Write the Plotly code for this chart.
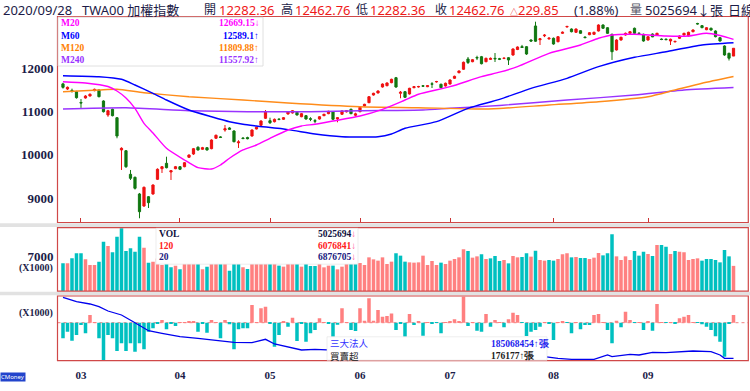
import plotly.graph_objects as go
import numpy as np

W, H = 750, 391
def px(x): return x / W
def py(y): return 1 - y / H

# ---------------- data ----------------
month_labels = ["03", "04", "05", "06", "07", "08", "09"]
days_per_month = [4, 22, 20, 20, 20, 23, 21, 20]   # Feb(part) .. Sep trading days
n_days = sum(days_per_month)
idx = list(range(n_days))
month_start = [int(v) for v in np.cumsum(days_per_month)[:-1]]

opens = [11640, 11522, 11490, 11460, 11210, 11314, 11360, 11483, 11499, 11245,
         10922, 11053, 10859, 10114, 10097, 9552, 9483, 9098, 8820, 9035,
         9098, 9437, 9682, 9806, 9606, 9682, 9728, 9728, 9945, 10021,
         10176, 10130, 10167, 10144, 10384, 10415, 10575, 10622, 10552, 10280,
         10390, 10400, 10437, 10598, 10684, 10846, 10790, 10767, 10825, 10822,
         10945, 10968, 10984, 10882, 10906, 10835, 10790, 10829, 10906, 10952,
         10998, 10829, 10938, 10995, 11053, 10915, 10998, 11130, 11206, 11383,
         11430, 11568, 11598, 11668, 11783, 11423, 11460, 11407, 11552, 11570,
         11595, 11575, 11640, 11688, 11631, 11591, 11637, 11769, 11898, 11977,
         12215, 12152, 12250, 12268, 12152, 12205, 12230, 12220, 12228, 12245,
         12307, 12434, 12500, 12499, 12653, 12977, 12660, 12750, 12680, 12693,
         12614, 12808, 12955, 12907, 12831, 12868, 12720, 12776, 12785, 12861,
         13000, 12937, 12785, 12423, 12653, 12769, 12808, 12924, 12810, 12785,
         12653, 12792, 12769, 12675, 12672, 12630, 12610, 12693, 12769, 12746,
         12845, 13035, 12985, 12891, 12924, 12861, 12707, 12515, 12346, 12282.36]
highs = [11665, 11580, 11530, 11480, 11290, 11380, 11420, 11530, 11510, 11260,
         11040, 11070, 10870, 10176, 10110, 9652, 9500, 9121, 9270, 9050,
         9320, 9690, 9740, 9959, 9650, 9745, 9740, 9835, 10010, 10160,
         10200, 10185, 10180, 10360, 10470, 10430, 10691, 10640, 10570, 10340,
         10410, 10420, 10590, 10650, 10800, 11037, 10859, 10840, 10845, 10875,
         11010, 11035, 11000, 10965, 10920, 10870, 10830, 10895, 10950, 11020,
         11010, 10870, 11030, 11030, 11070, 10975, 11110, 11180, 11360, 11435,
         11490, 11650, 11675, 11760, 11800, 11476, 11475, 11550, 11590, 11595,
         11610, 11610, 11680, 11710, 11645, 11670, 11745, 11830, 11950, 12155,
         12261, 12215, 12290, 12285, 12245, 12250, 12353, 12240, 12250, 12260,
         12460, 12505, 12540, 12515, 12670, 13076, 12700, 12790, 12720, 12710,
         12745, 12850, 12985, 12920, 12920, 12880, 12740, 12835, 12845, 13015,
         13015, 12950, 12800, 12670, 12730, 12825, 12860, 12940, 12830, 12800,
         12745, 12805, 12820, 12690, 12690, 12685, 12640, 12760, 12820, 12845,
         12900, 13050, 13000, 12950, 12940, 12875, 12720, 12530, 12360, 12462.76]
lows = [11530, 11500, 11440, 11300, 11085, 11300, 11350, 11470, 11330, 10980,
        10880, 10890, 10384, 9652, 9700, 9421, 9200, 8537, 8800, 8774,
        9080, 9420, 9583, 9690, 9421, 9670, 9650, 9715, 9930, 10000,
        10100, 10120, 10100, 10130, 10370, 10390, 10536, 10580, 10290, 10160,
        10360, 10360, 10420, 10590, 10670, 10830, 10714, 10750, 10800, 10810,
        10930, 10955, 10910, 10870, 10815, 10780, 10730, 10815, 10895, 10940,
        10810, 10753, 10925, 10980, 10940, 10882, 10985, 11120, 11195, 11370,
        11420, 11555, 11585, 11655, 11550, 11307, 11315, 11395, 11540, 11555,
        11570, 11565, 11545, 11670, 11540, 11580, 11625, 11755, 11885, 11965,
        12099, 12140, 12190, 12090, 12140, 12195, 12145, 12190, 12210, 12076,
        12290, 12420, 12470, 12310, 12610, 12610, 12538, 12720, 12660, 12545,
        12600, 12795, 12940, 12830, 12815, 12795, 12690, 12765, 12770, 12850,
        12910, 12795, 12192, 12410, 12640, 12755, 12795, 12795, 12790, 12615,
        12640, 12720, 12755, 12650, 12650, 12538, 12600, 12680, 12755, 12735,
        12830, 13010, 12925, 12880, 12870, 12715, 12615, 12290, 12180, 12282.36]
closes = [11560, 11561, 11480, 11321, 11200, 11360, 11400, 11515, 11344, 10998,
          11021, 10906, 10437, 10153, 9728, 9460, 9229, 8689, 9252, 8897,
          9305, 9668, 9728, 9705, 9636, 9728, 9668, 9820, 9998, 10144,
          10114, 10167, 10114, 10344, 10453, 10405, 10605, 10592, 10305, 10300,
          10380, 10375, 10575, 10638, 10783, 10998, 10744, 10822, 10820, 10859,
          10998, 11021, 10922, 10952, 10829, 10825, 10780, 10882, 10938, 11007,
          10822, 10859, 11014, 11020, 10952, 10948, 11099, 11169, 11344, 11423,
          11476, 11637, 11661, 11746, 11568, 11446, 11330, 11538, 11575, 11578,
          11588, 11598, 11635, 11693, 11552, 11654, 11730, 11815, 11938, 12139,
          12135, 12199, 12240, 12106, 12231, 12228, 12220, 12210, 12233, 12192,
          12446, 12492, 12480, 12330, 12630, 12625, 12680, 12765, 12695, 12561,
          12730, 12831, 12965, 12845, 12907, 12808, 12710, 12822, 12831, 13000,
          12924, 12808, 12383, 12653, 12716, 12808, 12845, 12808, 12805, 12630,
          12730, 12725, 12808, 12665, 12662, 12670, 12620, 12745, 12808, 12831,
          12884, 13025, 12938, 12937, 12884, 12730, 12630, 12307, 12233, 12462.76]

volume = [5530, 5530, 6530, 7530, 7530, 6330, 5200, 5200, 5870, 9870,
          9000, 7730, 10870, 12530, 8000, 8530, 7870, 10870, 8670, 5670,
          5870, 6500, 5200, 5800, 4730, 5070, 4330, 6200, 6800, 6400,
          5900, 4330, 4870, 5900, 6300, 5600, 6100, 4070, 5700, 5500,
          4730, 4400, 5800, 6000, 6500, 7200, 5900, 5600, 5070, 4870,
          5700, 5900, 5600, 4870, 5500, 5000, 5000, 5800, 4730, 5070,
          5070, 4330, 4870, 5900, 6100, 5700, 5600, 5200, 6730, 6330,
          6070, 6730, 5400, 5870, 7530, 7070, 5870, 5730, 5670, 5730,
          7070, 5200, 6000, 5200, 5670, 5400, 6070, 6400, 6730, 8330,
          8000, 6670, 6930, 7330, 6400, 6530, 7000, 6000, 6200, 5530,
          7000, 6730, 6800, 7530, 6870, 8070, 6200, 6070, 6200, 6070,
          6400, 7330, 7530, 6730, 6800, 6600, 6600, 6400, 6670, 7600,
          7130, 7530, 11330, 6930, 6200, 6930, 6200, 8000, 7070, 7870,
          7400, 7000, 9200, 9200, 8870, 7400, 8000, 7870, 7730, 6200,
          6400, 6530, 6070, 6400, 6400, 6200, 5730, 8200, 6930, 5026]

inst_net = [-62, -36, -72, -49, -9, -42, 31, 2, -62, -149,
            -49, -62, -113, -82, -113, -82, -116, -82, -106, -36,
            -22, -3, 11, -26, -3, -13, 1, 2, 4, 7,
            -36, -2, -40, 11, 1, -62, 11, -6, -106, -26,
            -22, -22, 71, 2, 58, 64, -2, -96, -49, 4,
            -16, 20, -73, -4, -76, -42, -29, 18, 2, -2,
            -56, -8, 58, 2, -29, -33, 58, 8, 98, 8,
            51, 24, 27, 37, -29, -5, -56, 35, -9, 4,
            -52, 1, -3, -1, -42, 2, 4, 14, 4, 104,
            -13, 1, -32, -36, 35, -16, 11, 1, -18, 14,
            40, 31, -1, -53, -36, -29, -16, 1, -2, -69,
            1, 7, -1, -42, 1, -26, -9, -9, 31, 35,
            1, -29, -82, 8, -18, 44, 11, -1, 1, -29,
            4, -32, 75, 1, -1, 1, -4, 18, 24, 31,
            1, -1, -6, -16, -29, -54, -76, -136, -3, 31]

cum_idx = [0, 3, 6, 8, 10, 13, 16, 19, 22, 26, 30, 34, 38, 42, 44, 45, 47, 50, 53, 56, 59,
           70, 85, 100, 107, 110, 113, 118, 121, 122, 126, 128, 131, 134, 140, 144, 146, 147, 149]
cum_val = [63.4, 59.0, 56.7, 54.0, 49.7, 45.7, 38.0, 30.0, 27.4, 24.0, 22.4, 20.7, 18.4, 18.0,
           20.2, 21.4, 16.7, 13.4, 10.7, 11.4, 10.7, 8.7, 6.7, 4.7, 4.0, 2.4, 1.4, 1.4, 5.7,
           4.0, 6.4, 5.7, 8.4, 8.0, 9.7, 9.0, 5.7, 2.4, 2.4]

ma20_idx = [0, 5, 10, 12, 14, 16, 18, 20, 23, 27, 30, 33, 35, 37, 40, 43, 46, 50, 53, 56, 60,
            66, 71, 76, 79, 86, 93, 97, 101, 108, 115, 119, 122, 127, 134, 139, 143, 146, 149]
ma20_val = [11691, 11661, 11580, 11476, 11314, 11076, 10730, 10506, 10153, 9883, 9705, 9675,
            9767, 9922, 10114, 10229, 10384, 10575, 10668, 10707, 10783, 10899, 11053, 11268,
            11400, 11575, 11806, 11910, 12037, 12346, 12538, 12693, 12769, 12785, 12746, 12746,
            12808, 12757, 12669]
ma60_idx = [0, 8, 13, 16, 20, 23, 28, 33, 37, 40, 43, 50, 56, 62, 70, 73, 76, 83, 90, 97,
            104, 112, 119, 127, 134, 142, 149]
ma60_val = [11829, 11806, 11746, 11614, 11423, 11268, 11037, 10882, 10767, 10707, 10668,
            10585, 10483, 10421, 10421, 10483, 10615, 10767, 11076, 11284, 11538, 11769,
            12037, 12254, 12383, 12538, 12589]
ma120_idx = [0, 8, 12, 18, 28, 40, 50, 66, 79, 92, 97, 108, 119, 130, 136, 142, 149]
ma120_val = [11460, 11499, 11515, 11437, 11344, 11268, 11199, 11113, 11090, 11060, 11072,
             11153, 11229, 11344, 11499, 11654, 11810]
ma240_idx = [0, 14, 28, 41, 55, 66, 80, 86, 97, 112, 127, 138, 149]
ma240_val = [11060, 11090, 11021, 10998, 10998, 11021, 11037, 11076, 11141, 11268, 11383,
             11499, 11558]

y_ticks = [9000, 10000, 11000, 12000]
y_tick_labels = ["9000", "10000", "11000", "12000"]
vol_ticks = [7000]
vol_tick_labels = ["7000"]

# ---------------- figure ----------------
NAVY = '#1c1c48'
RED = '#F01818'
PINK = '#FF8080'
TEAL = '#00C0C0'
SERIF = 'Liberation Serif, Times New Roman, serif'
SANS = 'Noto Sans, Noto Sans CJK TC, sans-serif'
CJK = 'Noto Sans CJK TC, sans-serif'

fig = go.Figure()

for xi, yi, col in [(ma240_idx, ma240_val, '#9933FF'), (ma120_idx, ma120_val, '#FF8C1A'),
                    (ma60_idx, ma60_val, '#0000FF'), (ma20_idx, ma20_val, '#FF00FF')]:
    fig.add_trace(go.Scatter(x=xi, y=yi, mode='lines',
                             line=dict(color=col, width=1.4, shape='spline', smoothing=0.6),
                             xaxis='x', yaxis='y', hoverinfo='skip'))

fig.add_trace(go.Candlestick(x=idx, open=opens, high=highs, low=lows, close=closes,
                             increasing=dict(line=dict(color='#EE1111', width=1), fillcolor='#EE1111'),
                             decreasing=dict(line=dict(color='#117711', width=1), fillcolor='#117711'),
                             whiskerwidth=0, xaxis='x', yaxis='y'))

vol_colors = []
for i in idx:
    if i == 0:
        up = closes[0] >= opens[0]
    else:
        up = closes[i] > closes[i - 1]
    vol_colors.append(PINK if up else TEAL)
fig.add_trace(go.Bar(x=idx, y=volume, marker=dict(color=vol_colors, line=dict(width=0)),
                     xaxis='x2', yaxis='y2'))

inst_colors = [PINK if v > 0 else TEAL for v in inst_net]
fig.add_trace(go.Bar(x=idx, y=inst_net, marker=dict(color=inst_colors, line=dict(width=0)),
                     xaxis='x3', yaxis='y3'))
fig.add_trace(go.Scatter(x=cum_idx, y=cum_val, mode='lines', line=dict(color='#0000EE', width=1.3),
                         xaxis='x3', yaxis='y4'))

xr = [-1.22, 152.22]
xdom = [px(57.5), px(748)]
fig.update_layout(
    width=W, height=H, margin=dict(l=0, r=0, t=0, b=0),
    paper_bgcolor='white', plot_bgcolor='white', showlegend=False, bargap=0.22,
    xaxis=dict(domain=xdom, range=xr, anchor='y', showgrid=False, zeroline=False,
               tickvals=month_start, ticktext=month_labels, showticklabels=False,
               ticks='inside', ticklen=4, tickcolor='#CC3333', rangeslider=dict(visible=False)),
    xaxis2=dict(domain=xdom, range=xr, anchor='y2', matches='x', showgrid=False, zeroline=False,
                showticklabels=False),
    xaxis3=dict(domain=xdom, range=xr, anchor='y3', matches='x', showgrid=False, zeroline=False,
                tickvals=month_start, ticktext=month_labels, ticks='', ticklabelstandoff=6,
                tickfont=dict(family=SERIF, size=11, color=NAVY, weight='bold')),
    yaxis=dict(domain=[py(222.3), py(16.5)], range=[8444, 13196], showgrid=False, zeroline=False,
               tickvals=y_ticks, ticktext=y_tick_labels, ticks='', ticklabelstandoff=3,
               tickfont=dict(family=SERIF, size=13, color=NAVY, weight='bold')),
    yaxis2=dict(domain=[py(291), py(227.7)], range=[0, 12660], showgrid=False, zeroline=False,
                tickvals=vol_ticks, ticktext=vol_tick_labels, ticks='', ticklabelstandoff=3,
                tickfont=dict(family=SERIF, size=13, color=NAVY, weight='bold')),
    yaxis3=dict(domain=[py(360.7), py(296)], range=[-152, 106.8], showgrid=False, zeroline=False,
                showticklabels=False),
    yaxis4=dict(domain=[py(360.7), py(296)], range=[0, 64.7], overlaying='y3', visible=False),
)

shapes = []
def rect(x0, y0, x1, y1, fill=None, line=None, lw=1, layer='above'):
    d = dict(type='rect', xref='paper', yref='paper', x0=px(x0), x1=px(x1), y0=py(y1), y1=py(y0),
             layer=layer, line=dict(width=lw if line else 0, color=line or 'rgba(0,0,0,0)'))
    if fill:
        d['fillcolor'] = fill
    shapes.append(d)

# separator bands
rect(0, 223.2, 750, 227.0, fill='#E2E2E2', layer='below')
rect(0, 291.8, 750, 295.3, fill='#E2E2E2', layer='below')
# panel borders
BORDER = '#D04848'
rect(57.5, 16.5, 748.3, 222.5, line=BORDER, lw=1.2)
rect(57.5, 227.7, 748.3, 291.2, line=BORDER, lw=1.2)
rect(57.5, 296, 748.3, 360.7, line=BORDER, lw=1.2)
# zero line of third panel (dotted)
shapes.append(dict(type='line', xref='paper', yref='y3', x0=px(57.5), x1=px(748), y0=0, y1=0,
                   line=dict(color='#F08080', width=1, dash='dot'), layer='below'))
# legend boxes
rect(58, 17.2, 263, 66, fill='white', line='#D8D8D8', lw=0.8)
rect(156, 228.3, 358, 264.2, fill='white', line='#E0E0E0', lw=0.6)
rect(327, 336.8, 547, 360.2, fill='white', line='#E0E0E0', lw=0.6)
fig.update_layout(shapes=shapes)

def txt(x, y, s, color, size, family=SERIF, anchor='left', bold=False):
    fig.add_annotation(x=px(x), y=py(y), xref='paper', yref='paper', text=s, showarrow=False,
                       xanchor=anchor, yanchor='middle', borderpad=0,
                       font=dict(family=family, size=size, color=color, weight='bold' if bold else 'normal'))

# header
txt(2, 10, '2020/09/28', NAVY, 13, SANS)
txt(81, 10, 'TWA00 加權指數', NAVY, 13, SANS)
txt(203, 10, '開', NAVY, 12, SANS)
txt(218, 10, '12282.36', RED, 13, SANS)
txt(280, 10, '高', NAVY, 12, SANS)
txt(294, 10, '12462.76', RED, 13, SANS)
txt(355, 10, '低', NAVY, 12, SANS)
txt(369, 10, '12282.36', RED, 13, SANS)
txt(434, 10, '收', NAVY, 12, SANS)
txt(448, 10, '12462.76', RED, 13, SANS)
txt(509, 10, '<span style="font-size:8px">△</span>229.85', RED, 13, SANS)
txt(573, 10, '(1.88%)', NAVY, 13, SANS)
txt(629, 10, '量', '#555566', 12, SANS)
txt(644, 10, '5025694↓張', NAVY, 13, SANS)
txt(727, 10, '日線', NAVY, 13, SANS)

# MA legend
ma_leg = [('M20', '12669.15↓', '#FF00FF', 23.5), ('M60', '12589.1↑', '#0000FF', 35.8),
          ('M120', '11809.88↑', '#FF8000', 48.0), ('M240', '11557.92↑', '#9933FF', 60.0)]
for name, val, col, yy in ma_leg:
    txt(60, yy, name, col, 9.5, bold=True)
    txt(260, yy, val, col, 9.5, anchor='right', bold=True)

# volume legend
ARW = '#FF5599'
txt(158, 234, 'VOL', '#101040', 9.5, bold=True)
txt(158, 245.7, '120', '#FF2020', 9.5, bold=True)
txt(158, 257.3, '20', '#202080', 9.5, bold=True)
txt(357, 234, '5025694<span style="color:%s">↓</span>' % ARW, '#101040', 9.5, anchor='right', bold=True)
txt(357, 245.7, '6076841<span style="color:%s">↓</span>' % ARW, '#FF2020', 9.5, anchor='right', bold=True)
txt(357, 257.3, '6876705<span style="color:%s">↓</span>' % ARW, '#202080', 9.5, anchor='right', bold=True)

# institutional legend
txt(329, 343.3, '三大法人', '#3333FF', 9.5, CJK)
txt(329, 355.7, '買賣超', '#202020', 9.5, CJK)
txt(490, 343.3, '185068454↑張', '#2222EE', 9.5, bold=True)
txt(490, 355.7, '176177↑張', '#202020', 9.5, bold=True)

# unit labels
txt(54, 268, '(X1000)', NAVY, 10, anchor='right', bold=True)
txt(54, 313, '(X1000)', NAVY, 10, anchor='right', bold=True)

# logo
fig.add_annotation(x=px(0), y=py(376.5), xref='paper', yref='paper', text='CMoney', showarrow=False,
                   xanchor='left', yanchor='middle', bgcolor='#2244CC', borderpad=0,
                   font=dict(family=SANS, size=6, color='white'))

fig.write_html("out.html", config={'displayModeBar': False},
               post_script="document.body.style.margin='0';document.body.style.padding='0';")
